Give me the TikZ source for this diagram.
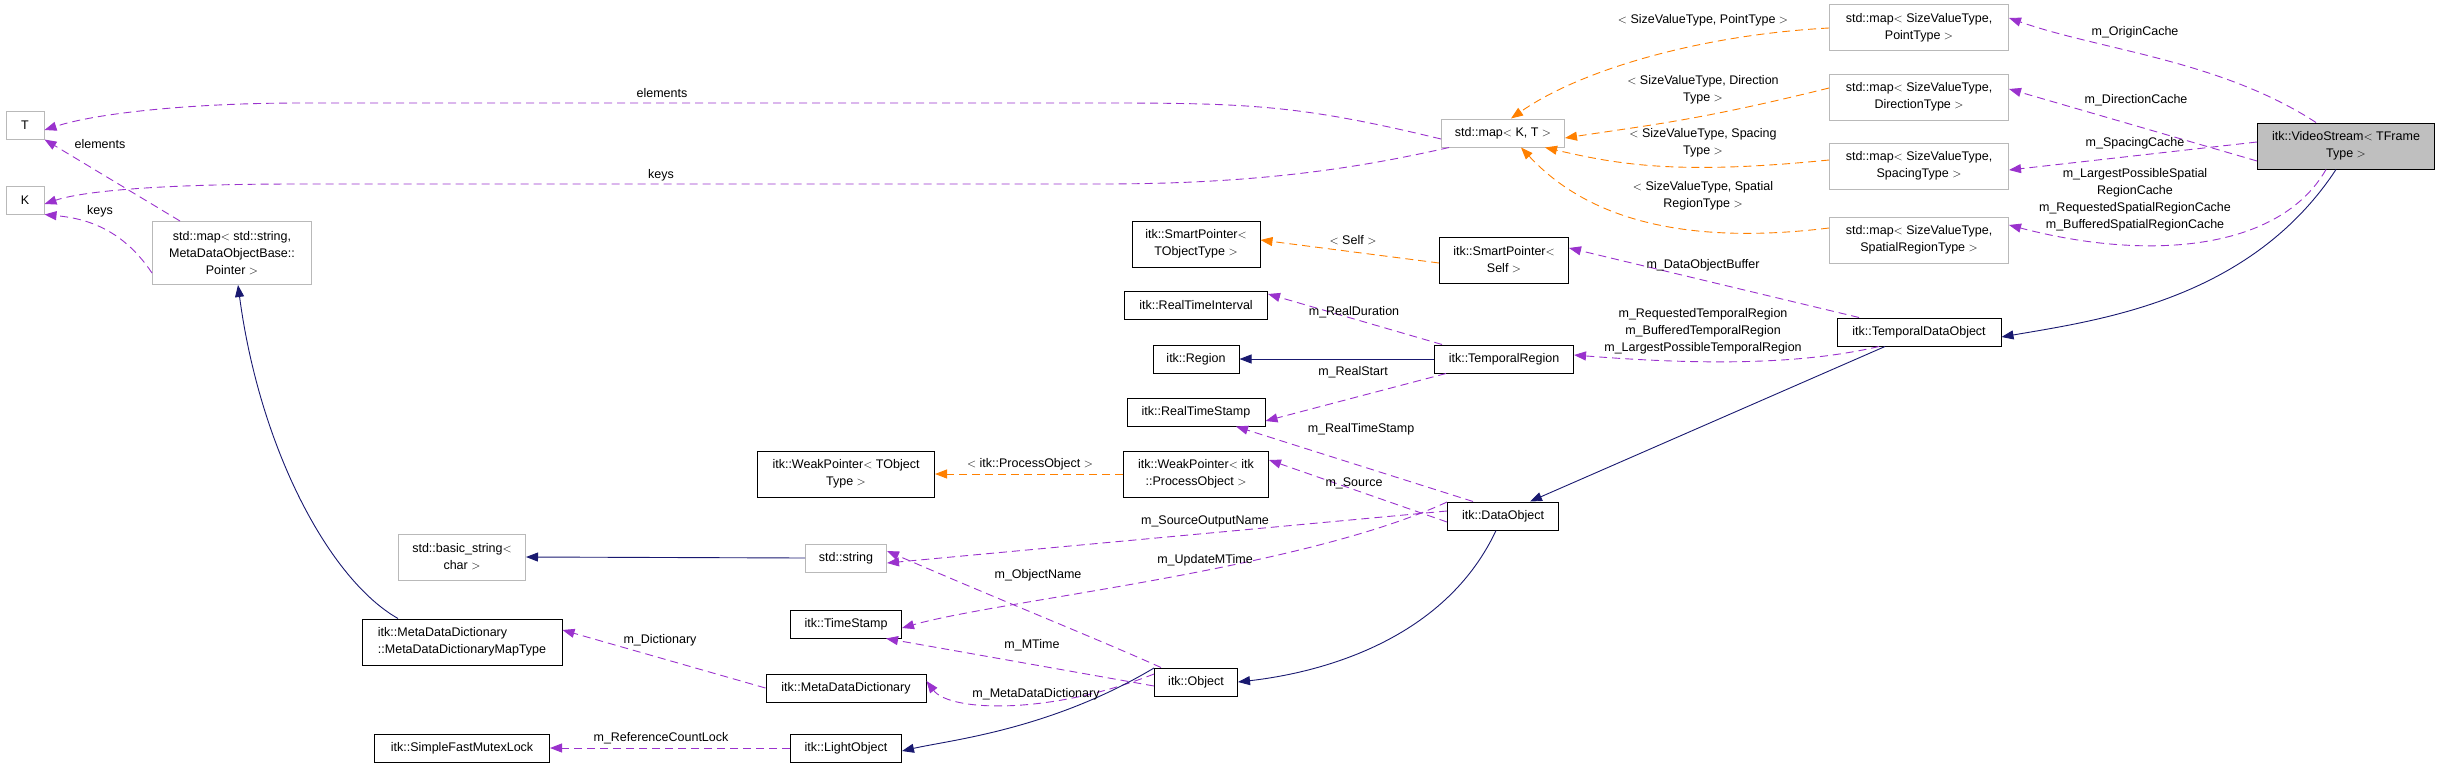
\documentclass[tikz,border=0pt]{standalone}
\usepackage{fontspec}
\setmainfont{Liberation Sans}
\usetikzlibrary{arrows.meta}
\begin{document}
\begin{tikzpicture}[x=1pt,y=-1pt,
  font=\fontsize{12.5}{17}\selectfont,
  box/.style={draw=black,line width=1pt,fill=white,align=center,inner xsep=2pt,inner ysep=0pt,minimum height=28pt},
  gbox/.style={box,draw=gray!55},
  vs/.style={box,fill=gray!50},
  tip/.style={-{Triangle[length=12pt,width=9pt]}},
  pu/.style={tip,draw=violet!70!magenta,dashed,dash pattern=on 8pt off 5pt,line width=0.9pt,color={rgb,255:red,154;green,50;blue,205}},
  og/.style={tip,dashed,dash pattern=on 8pt off 5pt,line width=0.9pt,color=orange},
  nv/.style={tip,line width=0.9pt,color={rgb,255:red,25;green,25;blue,112}},
  lb/.style={align=center,inner sep=0pt,font=\fontsize{12.5}{17}\selectfont}]
\useasboundingbox (0,0) rectangle (2440,768);
% nodes
\node[gbox,minimum width=38] (T) at (25,125) {T};
\node[gbox,minimum width=38] (K) at (25,200) {K};
\node[gbox,minimum width=159,minimum height=63] (meta) at (232,253) {std::map$<$ std::string,\\ MetaDataObjectBase::\\Pointer $>$};
\node[box,minimum width=200,minimum height=46,align=left] (mddmt) at (462,642) {itk::MetaDataDictionary\\::MetaDataDictionaryMapType};
\node[box,minimum width=175] (sfml) at (462,748) {itk::SimpleFastMutexLock};
\node[gbox,minimum width=127,minimum height=46] (bs) at (462,557) {std::basic\_string$<$\\ char $>$};
\node[gbox,minimum width=123] (kt) at (1503,133) {std::map$<$ K, T $>$};
\node[box,minimum width=128,minimum height=46] (spt) at (1196,244) {itk::SmartPointer$<$\\ TObjectType $>$};
\node[box,minimum width=129,minimum height=46] (sps) at (1504,260) {itk::SmartPointer$<$\\ Self $>$};
\node[box,minimum width=143] (rti) at (1196,305) {itk::RealTimeInterval};
\node[box,minimum width=86] (reg) at (1196,359) {itk::Region};
\node[box,minimum width=139] (tr) at (1504,359) {itk::TemporalRegion};
\node[box,minimum width=138] (rts) at (1196,412) {itk::RealTimeStamp};
\node[box,minimum width=145,minimum height=46] (wpp) at (1196,474) {itk::WeakPointer$<$ itk\\ ::ProcessObject $>$};
\node[box,minimum width=177,minimum height=46] (wpt) at (846,474) {itk::WeakPointer$<$ TObject\\ Type $>$};
\node[box,minimum width=111] (do) at (1503,516) {itk::DataObject};
\node[gbox,minimum width=81] (str) at (846,558) {std::string};
\node[box,minimum width=111] (ts) at (846,624) {itk::TimeStamp};
\node[box,minimum width=160] (mdd) at (846,688) {itk::MetaDataDictionary};
\node[box,minimum width=111] (lo) at (846,748) {itk::LightObject};
\node[box,minimum width=83] (obj) at (1196,682) {itk::Object};
\node[gbox,minimum width=179,minimum height=46] (mp) at (1919,28) {std::map$<$ SizeValueType,\\ PointType $>$};
\node[gbox,minimum width=179,minimum height=46] (md) at (1919,97) {std::map$<$ SizeValueType,\\ DirectionType $>$};
\node[gbox,minimum width=179,minimum height=46] (ms) at (1919,166) {std::map$<$ SizeValueType,\\ SpacingType $>$};
\node[gbox,minimum width=179,minimum height=46] (mr) at (1919,240) {std::map$<$ SizeValueType,\\ SpatialRegionType $>$};
\node[vs,minimum width=177,minimum height=46] (vsn) at (2346,146) {itk::VideoStream$<$ TFrame\\ Type $>$};
\node[box,minimum width=164] (tdo) at (1919,332) {itk::TemporalDataObject};
% purple edges
\draw[pu] ([yshift=-6]kt.west) .. controls (1300,105) and (1250,103) .. (1100,103) -- (300,103) .. controls (200,103) and (100,112) .. ([yshift=-5]T.east);
\draw[pu] ([xshift=8]kt.south west) .. controls (1350,170) and (1250,184) .. (1100,184) -- (300,184) .. controls (150,184) and (80,192) .. ([yshift=-4]K.east);
\draw[pu] ([xshift=28]meta.north west) -- (T.south east);
\draw[pu] ([yshift=-20]meta.west) .. controls (120,225) and (80,218) .. (K.south east);
\draw[pu] ([xshift=-30]vsn.north) .. controls (2220,60) and (2100,50) .. ([yshift=10]mp.east);
\draw[pu] ([yshift=-15]vsn.west) -- ([yshift=8]md.east);
\draw[pu] ([yshift=4]vsn.west) -- ([yshift=-4]ms.east);
\draw[pu] ([xshift=-20]vsn.south) .. controls (2280,250) and (2150,262) .. ([yshift=15]mr.east);
\draw[pu] ([xshift=-60]tdo.north) -- ([yshift=12]sps.east);
\draw[pu] ([xshift=-40]tdo.south) .. controls (1800,365) and (1700,365) .. ([yshift=4]tr.east);
\draw[pu] ([xshift=-62]tr.north) -- ([yshift=11]rti.east);
\draw[pu] ([xshift=-58]tr.south) -- ([yshift=-9]rts.east);
\draw[pu] ([xshift=-30]do.north) -- ([xshift=40]rts.south);
\draw[pu] ([yshift=-6]do.west) -- ([yshift=14]wpp.east);
\draw[pu] ([yshift=5]do.west) -- ([yshift=-5]str.east);
\draw[pu] ([yshift=14]do.west) .. controls (1300,570) and (1000,600) .. ([yshift=-4]ts.east);
\draw[pu] ([xshift=-35]obj.north) .. controls (1100,640) and (1000,600) .. ([yshift=7]str.east);
\draw[pu] ([yshift=-4]obj.west) -- ([xshift=40]ts.south);
\draw[pu] ([yshift=8]obj.west) .. controls (1050,715) and (950,712) .. ([yshift=7]mdd.east);
\draw[pu] (mdd.west) -- ([yshift=12]mddmt.east);
\draw[pu] (lo.west) -- (sfml.east);
% orange edges
\draw[og] (mp.west) .. controls (1700,35) and (1580,70) .. ([xshift=8]kt.north);
\draw[og] ([yshift=9]md.west) .. controls (1700,120) and (1650,125) .. ([yshift=-5]kt.east);
\draw[og] ([yshift=6]ms.west) .. controls (1680,175) and (1620,165) .. ([xshift=-20]kt.south east);
\draw[og] ([yshift=12]mr.west) .. controls (1650,250) and (1570,200) .. ([xshift=18]kt.south);
\draw[og] ([yshift=-3]sps.west) -- ([yshift=4]spt.east);
\draw[og] (wpp.west) -- (wpt.east);
% navy edges
\draw[nv] ([xshift=-10]vsn.south) .. controls (2250,300) and (2100,320) .. ([yshift=-5]tdo.east);
\draw[nv] ([xshift=-34]tdo.south) -- ([xshift=27]do.north);
\draw[nv] ([xshift=-7]do.south) .. controls (1440,650) and (1300,675) .. (obj.east);
\draw[nv] ([yshift=14]obj.west) .. controls (1050,730) and (950,740) .. ([yshift=-3]lo.east);
\draw[nv] (tr.west) -- (reg.east);
\draw[nv] (str.west) -- (bs.east);
\draw[nv] ([xshift=-64]mddmt.north) .. controls (330,580) and (260,450) .. ([xshift=6]meta.south);
% labels
\node[lb] at (662,93) {elements};
\node[lb] at (661,175) {keys};
\node[lb] at (100,144) {elements};
\node[lb] at (100,211) {keys};
\node[lb] at (660,640) {m\_Dictionary};
\node[lb] at (661,738) {m\_ReferenceCountLock};
\node[lb] at (1353,240) {$<$ Self $>$};
\node[lb] at (1354,312) {m\_RealDuration};
\node[lb] at (1353,372) {m\_RealStart};
\node[lb] at (1361,429) {m\_RealTimeStamp};
\node[lb] at (1030,464) {$<$ itk::ProcessObject $>$};
\node[lb] at (1354,483) {m\_Source};
\node[lb] at (1205,521) {m\_SourceOutputName};
\node[lb] at (1205,560) {m\_UpdateMTime};
\node[lb] at (1038,575) {m\_ObjectName};
\node[lb] at (1032,645) {m\_MTime};
\node[lb] at (1036,694) {m\_MetaDataDictionary};
\node[lb] at (1703,20) {$<$ SizeValueType, PointType $>$};
\node[lb] at (1703,90) {$<$ SizeValueType, Direction\\Type $>$};
\node[lb] at (1703,143) {$<$ SizeValueType, Spacing\\Type $>$};
\node[lb] at (1703,196) {$<$ SizeValueType, Spatial\\RegionType $>$};
\node[lb] at (2135,32) {m\_OriginCache};
\node[lb] at (2136,100) {m\_DirectionCache};
\node[lb] at (2135,143) {m\_SpacingCache};
\node[lb] at (2135,200) {m\_LargestPossibleSpatial\\RegionCache\\m\_RequestedSpatialRegionCache\\m\_BufferedSpatialRegionCache};
\node[lb] at (1703,265) {m\_DataObjectBuffer};
\node[lb] at (1703,331) {m\_RequestedTemporalRegion\\m\_BufferedTemporalRegion\\m\_LargestPossibleTemporalRegion};
\end{tikzpicture}
\end{document}
